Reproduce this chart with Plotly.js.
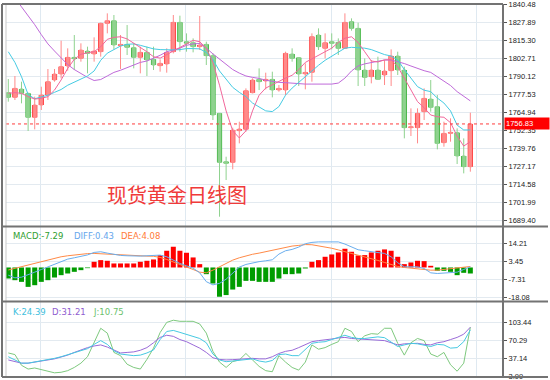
<!DOCTYPE html>
<html>
<head>
<meta charset="utf-8">
<script src="https://cdn.plot.ly/plotly-3.0.1.min.js"></script>
<style>
html,body{margin:0;padding:0;background:#fff;}
#chart{width:550px;height:380px;}
</style>
</head>
<body>
<div id="chart"></div>
<script>
// ---------- data ----------
const openP = [1778.76,1775.49,1781.34,1778.29,1761.45,1770.11,1777.12,1787.65,1791.86,1797.48,
  1803.56,1802.86,1808.00,1805.90,1807.54,1827.42,1829.29,1811.75,1812.68,1810.34,
  1803.56,1807.07,1802.16,1797.71,1798.88,1807.54,1828.12,1814.56,1813.85,1811.05,
  1812.68,1804.73,1764.26,1730.33,1729.86,1752.09,1753.03,1778.76,1788.12,1786.95,
  1788.12,1780.63,1780.63,1805.90,1803.33,1791.86,1793.03,1819.23,1809.88,1814.56,
  1814.09,1809.88,1828.59,1823.91,1794.67,1789.99,1794.67,1791.16,1794.20,1804.50,
  1794.67,1754.20,1754.20,1765.43,1774.32,1768.94,1743.67,1750.22,1750.69,1734.31,1726.83];
const highP = [1788.35,1790.46,1786.48,1778.76,1775.96,1782.97,1795.37,1795.37,1815.26,1809.88,
  1819.23,1813.39,1811.05,1817.60,1827.89,1834.44,1833.27,1819.23,1826.25,1813.39,
  1811.05,1811.05,1811.05,1802.16,1809.88,1833.27,1832.80,1820.40,1816.89,1832.57,
  1814.56,1806.37,1764.26,1733.84,1754.20,1758.41,1781.80,1788.82,1795.84,1792.80,
  1793.50,1784.14,1807.54,1809.88,1803.56,1799.35,1820.40,1823.91,1820.40,1820.40,
  1816.89,1834.44,1830.93,1827.89,1802.86,1801.69,1804.03,1801.69,1809.17,1807.54,
  1797.01,1767.77,1767.77,1781.80,1787.65,1777.12,1758.41,1760.75,1753.73,1746.71,1764.73];
const lowP = [1772.45,1773.62,1771.28,1751.86,1753.03,1766.60,1773.62,1786.48,1788.82,1794.20,
  1794.67,1800.52,1792.33,1800.52,1804.03,1820.40,1809.17,1795.37,1805.20,1795.84,
  1792.33,1790.46,1794.67,1793.50,1792.80,1806.37,1807.54,1807.54,1807.07,1808.71,
  1798.18,1759.58,1691.74,1717.47,1724.96,1743.20,1751.39,1778.29,1780.63,1781.10,
  1775.49,1779.47,1777.12,1800.52,1783.44,1781.10,1786.48,1808.71,1802.86,1809.17,
  1805.20,1809.88,1822.28,1783.44,1783.44,1785.31,1787.65,1784.14,1783.44,1791.16,
  1746.71,1748.35,1743.20,1759.58,1765.43,1738.99,1740.86,1744.37,1728.70,1722.15,1723.32];
const closeP = [1775.49,1781.80,1778.29,1761.45,1770.11,1777.12,1786.48,1791.86,1797.01,1803.56,
  1802.39,1808.71,1806.37,1808.00,1827.42,1829.29,1812.22,1812.68,1810.58,1803.56,
  1807.07,1801.69,1798.18,1799.35,1807.07,1828.12,1814.56,1813.39,1811.05,1812.22,
  1804.73,1763.09,1729.86,1729.16,1752.56,1753.26,1780.17,1787.65,1786.48,1788.12,
  1780.63,1781.80,1806.37,1802.86,1791.86,1793.03,1818.06,1811.05,1813.85,1813.39,
  1809.88,1828.12,1823.91,1794.67,1789.52,1794.67,1788.12,1793.97,1804.50,1794.67,
  1754.20,1754.90,1764.26,1774.79,1768.47,1743.20,1750.22,1750.92,1734.31,1726.83,1756.83];

const ma5 = [1778.3,1778.8,1778.3,1776.0,1774.3,1774.8,1776.0,1780.6,1787.7,1795.8,
  1802.2,1805.7,1806.8,1807.5,1811.0,1816.2,1817.6,1818.0,1816.5,1813.5,
  1811.0,1807.5,1804.0,1803.0,1805.5,1808.0,1811.0,1813.5,1815.5,1814.5,
  1810.0,1800.0,1784.0,1766.0,1752.0,1747.0,1752.0,1766.0,1777.0,1782.0,
  1784.5,1787.0,1789.0,1791.0,1795.0,1800.0,1802.5,1804.5,1807.0,1810.0,
  1814.0,1817.0,1818.0,1814.0,1807.5,1801.0,1800.3,1801.8,1801.9,1797.0,
  1789.0,1781.1,1772.5,1768.2,1763.1,1761.9,1761.5,1757.7,1748.3,1741.3,1744.4];
const ma10 = [1807.5,1800,1790,1777.5,1774.5,1775.5,1777,1779,1781,1784,
  1786,1788.5,1790.5,1794,1801.5,1806.5,1809,1811.5,1812.7,1813,
  1812,1810.5,1809.5,1809,1808.7,1808.8,1809,1809.7,1809.7,1809.5,
  1807,1802,1794,1788,1782.5,1779,1776,1771.5,1768.5,1766,
  1765.5,1769,1777,1782,1786,1790,1794.5,1798,1801.5,1804.5,
  1807.5,1810,1810.6,1810.5,1810,1809,1807,1805.5,1804.5,1801.7,
  1795,1789,1783,1780.5,1779.5,1775,1771.5,1766,1756,1752.6,1752.6];
const ma20 = [1851,1845.5,1839,1833,1826.5,1819.5,1813,1808,1803,1798.5,
  1795,1792,1789.5,1787.3,1788,1790.5,1793,1794.5,1796.5,1798.5,
  1800,1801,1802.8,1805,1807.5,1808.5,1810,1812,1813,1813.3,
  1810,1806,1802.5,1798.5,1795,1792.5,1790.5,1789.5,1788.8,1787.5,
  1786.6,1786,1785.8,1785.3,1784.8,1784.8,1784.8,1784.8,1784.8,1784.8,
  1785.5,1789,1794,1797.5,1799,1800,1801,1801.7,1801.7,1800.5,
  1799.2,1797.5,1795.8,1794.2,1793,1790,1787,1783.8,1779.5,1776,1773];

const macdHist = [-6.6,-7.6,-8.6,-11.6,-10.6,-8.6,-7.6,-6.0,-4.6,-3.6,
  -2.6,-1.6,-0.4,3.4,4.4,4.0,2.4,2.4,2.4,2.4,
  3.4,4.0,4.8,7.4,10.0,12.4,10.0,8.8,6.0,2.0,
  -4.0,-9.6,-17.5,-16.5,-13.2,-11.6,-8.0,-8.0,-8.6,-8.6,
  -8.6,-6.6,-4.0,-4.0,-3.6,-0.6,3.4,4.4,6.4,7.8,
  9.0,11.2,9.4,7.2,7.4,9.0,10.0,10.8,10.0,6.4,
  2.0,3.0,4.0,3.8,1.0,-2.0,-2.0,-2.6,-4.6,-3.2,-3.6];
const diffLine = [-4.6,-6.2,-5.8,-4.5,-2.8,-1.2,0.4,2.0,3.8,5.0,
  5.8,6.5,7.5,9.0,9.4,8.6,7.8,7.2,7.0,6.8,
  6.8,7.0,7.2,7.4,6.4,4.5,2.4,1.0,-0.4,-3.2,
  -8.5,-10.4,-9.5,-7.0,-3.5,0.2,1.8,2.8,3.5,4.0,
  4.6,8.0,10.0,10.8,12.2,14.2,15.0,15.3,15.3,15.3,
  15.3,14.0,12.2,10.6,10.0,9.4,8.8,8.4,6.4,2.8,
  0.4,0.4,0.4,-0.6,-3.2,-3.6,-3.3,-3.0,-2.8,-1.2,0.4];
const deaLine = [-1.5,-0.5,0.5,1.8,2.8,3.8,4.8,5.6,6.4,7.0,
  7.5,8.0,8.3,8.4,8.2,7.6,7.4,7.4,7.3,7.1,
  6.9,6.8,6.7,6.0,4.8,3.4,1.8,0.4,-1.2,-2.8,
  -3.2,-1.6,0.4,2.4,4.4,5.8,7.0,7.9,8.6,9.4,
  10.4,11.4,12.2,12.8,13.2,13.7,13.6,13.0,12.3,11.5,
  10.5,9.5,8.6,7.6,6.6,5.6,4.2,3.0,1.8,0.6,
  0.0,-0.5,-0.8,-1.2,-1.6,-1.6,-1.2,-1.0,-0.6,0.0,0.6];

const kLine = [40,34,28,28,30,32,35,37,40,44,
  48,52,55,63,70,63,51,45,43,42,
  43,47,52.5,72,87,89,85.4,82,78,74,
  66,45,34,30.7,32,33,34,36,32,30,
  33,44,45,42,42,53,65,67,68,72,
  76,80,76,74,74,76,77,75.5,68,59,
  62,65,64,62,59,63,62,56,57,68,90];
const dLine = [34,31,28,28,30,31.5,34,36,39.5,43,
  48,53,57,60,62,58,52.5,47,48,49,
  52,57,66,76,80,78,72,68,62,56,
  48,38,35,34,34.5,35,36,37,36,36,
  40,46,50,52,57,63,68,70,71,73,
  75,76,74,73,72,72,71,70,66,62,
  64,65,65,63,62,66,68,72,76,82,95];
const jLine = [47,44,24,17,19,16,13,10,11,14,
  20,28,40,65,93,84,48,42,26,20,
  17,35,56,85,104,108,106,106,106,101,
  84,50,30,20,31,34,46,34,22,14,
  12,42,30,20,15,30,62,54,57,63,
  68,93,87,68,79,83,82,93,93,65,
  43,66,74,70,45,40,48,25,13,28,95];

const priceTicks = [1840.48,1827.89,1815.30,1802.71,1790.12,1777.53,1764.94,1752.35,1739.76,1727.17,1714.58,1701.99,1689.40];
const macdTicks = [14.21,3.45,-7.31,-18.08];
const kdjTicks = [103.44,70.29,37.14,3.99];
const periodGrid = [4.9,26.9,48.9,70.95];
const lastPrice = 1756.83;
const chartTitle = '现货黄金日线图';
const macdNow = -7.29, diffNow = 0.43, deaNow = 4.08;
const kNow = 24.39, dNow = 31.21, jNow = 10.75;

// ---------- styling ----------
const UP = '#ff0000', DOWN = '#009c00';
const UP_W = '#ff8a8a', DOWN_W = '#8fd28f';
const GRID = '#e3eaf0';
const BORDER = '#737373';
const fmt = v => v.toFixed(2);

const xIdx = closeP.map((_, i) => i);
const bodyBase = openP.map((o, i) => Math.min(o, closeP[i]));
const bodyH = openP.map((o, i) => Math.max(Math.abs(closeP[i] - o), 0.7));
const bodyCol = openP.map((o, i) => closeP[i] >= o ? UP : DOWN);
const histCol = macdHist.map(v => v >= 0 ? UP : DOWN);

const line = (y, color, ax) => ({type:'scatter', mode:'lines', x:xIdx, y:y, xaxis:'x', yaxis:ax,
  line:{color:color, width:1}, hoverinfo:'skip'});

const traces = [
  {type:'candlestick', x:xIdx, open:openP, high:highP, low:lowP, close:closeP,
   xaxis:'x', yaxis:'y', whiskerwidth:0,
   increasing:{line:{color:UP_W, width:1}, fillcolor:UP_W},
   decreasing:{line:{color:DOWN_W, width:1}, fillcolor:DOWN_W}, hoverinfo:'skip'},
  {type:'bar', x:xIdx, y:bodyH, base:bodyBase, width:0.78, xaxis:'x', yaxis:'y',
   marker:{color:bodyCol, line:{width:0}}, hoverinfo:'skip'},
  line(ma20, '#bf6ad9', 'y'),
  line(ma10, '#45cbe3', 'y'),
  line(ma5, '#f2679b', 'y'),
  {type:'bar', x:xIdx, y:macdHist, width:0.76, xaxis:'x', yaxis:'y2',
   marker:{color:histCol, line:{width:0}}, hoverinfo:'skip'},
  line(deaLine, '#ff8a47', 'y2'),
  line(diffLine, '#6aaeee', 'y2'),
  line(jLine, '#7ec97e', 'y3'),
  line(dLine, '#9a6ad8', 'y3'),
  line(kLine, '#46c9e2', 'y3')
];

const tickFont = {family:'Liberation Sans, Arial, sans-serif', size:7.5, color:'#222'};
const yBase = (domain, range, ticks) => ({
  domain:domain, range:range, side:'right', anchor:'x',
  tickvals:ticks, ticktext:ticks.map(fmt), tickfont:tickFont,
  ticks:'outside', ticklen:3, tickcolor:'#555', tickwidth:1, ticklabeloverflow:'allow',
  showgrid:true, gridcolor:GRID, gridwidth:1, zeroline:false, showline:false, fixedrange:true
});

const pxX = px => (px - 6) / 497;
const pxY = py => (377 - py) / 373;

const hline = (y, x0, x1, color, w) => ({type:'line', xref:'paper', yref:'paper',
  x0:x0, x1:x1, y0:y, y1:y, line:{color:color, width:w}});
const vline = (x, color, w) => ({type:'line', xref:'paper', yref:'paper',
  x0:x, x1:x, y0:0, y1:1, line:{color:color, width:w}});

const shapes = [
  {type:'line', xref:'paper', yref:'y', x0:0, x1:1, y0:lastPrice, y1:lastPrice,
   line:{color:'#ff3b3b', width:1, dash:'dot'}},
  vline(0, '#c9c9c9', 1),
  hline(1, pxX(2), 1, BORDER, 2),
  hline(pxY(226.5), pxX(2), pxX(548), BORDER, 2),
  hline(pxY(301.5), pxX(2), pxX(548), BORDER, 2),
  hline(0, pxX(2), pxX(548), BORDER, 2),
  vline(pxX(2), BORDER, 2),
  vline(1, BORDER, 2)
];

const legFont = (c) => ({family:'DejaVu Sans, sans-serif', size:8.5, color:c});
const ann = (text, xpx, ypx, color) => ({xref:'paper', yref:'paper', x:pxX(xpx), y:pxY(ypx),
  xanchor:'left', yanchor:'middle', text:text, showarrow:false, font:legFont(color)});

const annotations = [
  {xref:'paper', yref:'paper', x:pxX(177), y:pxY(194), xanchor:'center', yanchor:'middle',
   text:chartTitle, showarrow:false,
   font:{family:'Noto Sans CJK SC, sans-serif', size:20, color:'#f03a3a'}},
  {xref:'paper', yref:'y', x:1, y:lastPrice, xanchor:'left', yanchor:'middle', xshift:1,
   text:fmt(lastPrice), showarrow:false, bgcolor:'#ff0000', width:42, height:9, align:'left',
   borderpad:1, font:{family:'Liberation Sans, Arial, sans-serif', size:7.5, color:'#ffffff'}},
  ann('MACD:' + fmt(macdNow), 11, 235.5, '#2f9e2f'),
  ann('DIFF:' + fmt(diffNow), 72, 235.5, '#66a6ec'),
  ann('DEA:' + fmt(deaNow), 119, 235.5, '#ff7b3a'),
  ann('K:' + fmt(kNow), 11, 311.5, '#3fc0dd'),
  ann('D:' + fmt(dNow), 50, 311.5, '#8f5ccf'),
  ann('J:' + fmt(jNow), 91, 311.5, '#6cbf6c')
];

const layout = {
  width:550, height:380,
  margin:{l:6, r:47, t:4, b:3, pad:0},
  paper_bgcolor:'#ffffff', plot_bgcolor:'#ffffff',
  showlegend:false, hovermode:false, barmode:'overlay',
  xaxis:{range:[-0.35, 74.95], anchor:'y3', tickvals:periodGrid, showticklabels:false, ticks:'',
    showgrid:true, gridcolor:'#dfe9f1', gridwidth:1, zeroline:false, showline:false,
    rangeslider:{visible:false}, fixedrange:true},
  yaxis: yBase([0.4048, 1], [1685.2, 1841.0], priceTicks),
  yaxis2: yBase([0.2038, 0.4021], [-20.04, 24.2], macdTicks),
  yaxis3: yBase([0, 0.2011], [2.2, 142.0], kdjTicks),
  shapes:shapes,
  annotations:annotations
};

Plotly.newPlot('chart', traces, layout, {displayModeBar:false, staticPlot:true});
</script>
</body>
</html>
